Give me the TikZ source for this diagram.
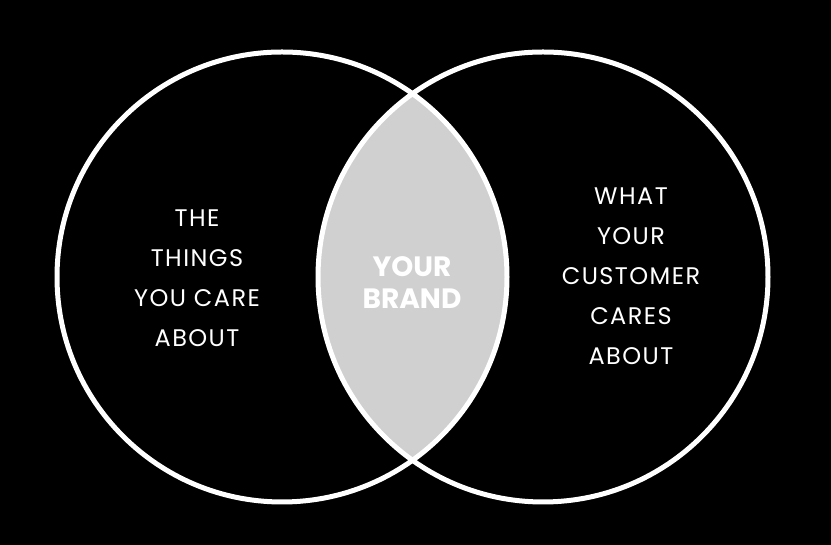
\documentclass[tikz,border=0pt]{standalone}
\usepackage{fontspec}
\setmainfont{Poppins}
\newfontfamily\widefont[LetterSpace=6]{Poppins}
\definecolor{lensgray}{HTML}{D0D0D0}
\tikzset{
  ring/.style={draw=white, line width=5pt},
  label/.style={text=white, align=center, inner sep=0pt, font=\widefont\fontsize{24}{40}\selectfont},
  brand/.style={text=white, align=center, inner sep=0pt, font=\fontsize{28}{32}\selectfont\bfseries}
}
\begin{document}
\begin{tikzpicture}[x=1pt,y=1pt]
\fill[black] (0,0) rectangle (831,545);
\useasboundingbox (0,0) rectangle (831,545);
\coordinate (cl) at (282,268);
\coordinate (cr) at (543,268);
\begin{scope}
  \clip (cl) circle (225);
  \fill[lensgray] (cr) circle (225);
\end{scope}
\draw[ring] (cl) circle (225);
\draw[ring] (cr) circle (225);
\node[label] (left) at (197,267) {THE\\THINGS\\YOU CARE\\ABOUT};
\node[label] (right) at (631,269) {WHAT\\YOUR\\CUSTOMER\\CARES\\ABOUT};
\node[brand] (mid) at (412,262) {YOUR\\BRAND};
\end{tikzpicture}
\end{document}
